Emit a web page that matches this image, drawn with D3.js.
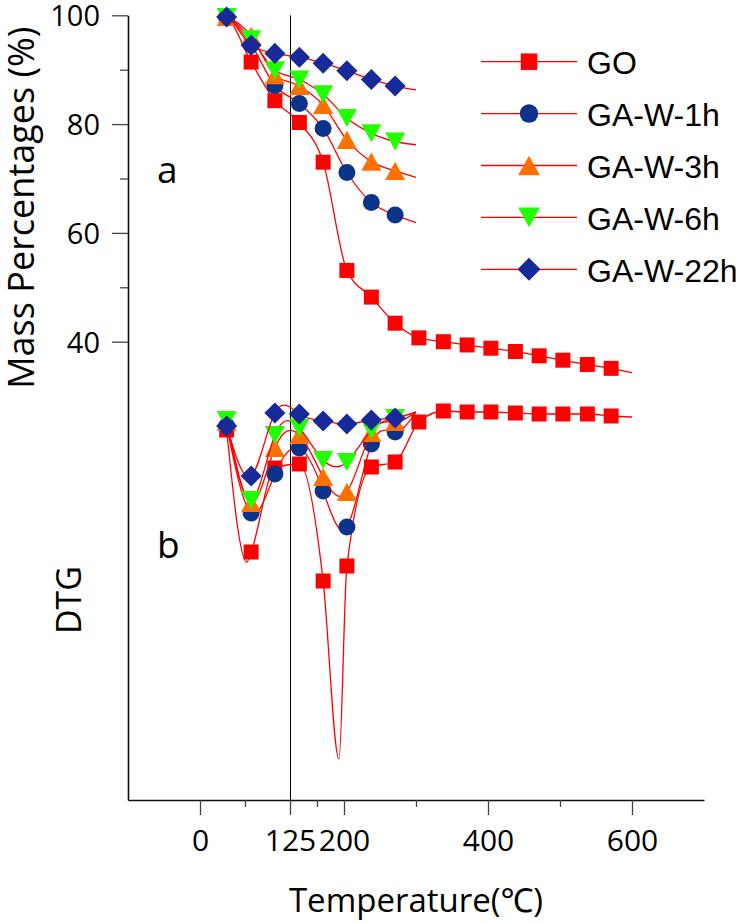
<!DOCTYPE html>
<html>
<head>
<meta charset="utf-8">
<script src="https://cdn.jsdelivr.net/npm/d3@7/dist/d3.min.js"></script>
<style>
  body { margin: 0; background: #fff; }
  svg { display: block; }
</style>
</head>
<body>
<svg id="chart"></svg>
<script>
const WIDTH = 740, HEIGHT = 923

// Series
const names = ['GO', 'GA-W-1h', 'GA-W-3h', 'GA-W-6h', 'GA-W-22h']
const colors = ['#ff0000', '#0b3389', '#ff7000', '#22ff00', '#18299a']
const shapes = ['square', 'circle', 'triangle', 'triangleDown', 'diamond']

// Temperatures (°C) where the symbols sit
const tempGO = [37, 71, 104, 138, 171, 204, 238, 271, 304, 338, 371, 404, 438, 471, 504, 538, 571]
const tempGA = [37, 71, 104, 138, 171, 204, 238, 271]
// last point of each curve (no symbol)
const endTemp = [600, 300, 300, 300, 300]

// (a) TG, mass percentage
const tgStartT = 25, tgStartV = 100
const tgGO = [99.6, 91.4, 84.3, 80.3, 73.0, 53.1, 48.2, 43.4, 40.7, 40.0, 39.4, 38.8, 38.2, 37.4, 36.6, 35.8, 35.1]
const tgW1 = [99.6, 94.6, 87.1, 83.8, 79.2, 71.1, 65.6, 63.3]
const tgW3 = [99.7, 96.2, 89.0, 87.0, 83.5, 77.1, 73.1, 71.4]
const tgW6 = [99.7, 95.6, 89.9, 88.2, 85.5, 81.1, 78.3, 76.8]
const tgW22 = [99.7, 94.5, 93.0, 92.3, 91.2, 89.8, 88.2, 87.0]
const tgEnd = [34.3, 61.9, 70.2, 76.2, 86.3]

// (b) DTG, arbitrary units
const dtgGO = [-0.19, -1.41, -0.57, -0.53, -1.70, -1.55, -0.56, -0.51, -0.11, 0.00, -0.01, -0.01, -0.02, -0.03, -0.03, -0.03, -0.05]
const dtgW1 = [-0.15, -1.02, -0.63, -0.37, -0.80, -1.16, -0.33, -0.21]
const dtgW3 = [-0.11, -0.92, -0.37, -0.24, -0.66, -0.81, -0.22, -0.11]
const dtgW6 = [-0.09, -0.89, -0.24, -0.17, -0.49, -0.51, -0.19, -0.07]
const dtgW22 = [-0.15, -0.65, -0.02, -0.03, -0.10, -0.13, -0.09, -0.07]
const dtgEnd = [-0.06, -0.01, -0.01, -0.01, -0.01]
// GO curve between symbols (peaks of the dense data)
const dtgGOExtraT = [65, 193]
const dtgGOExtraV = [-1.51, -3.48]

// Axis ticks
const xMajor = [0, 125, 200, 400, 600]
const xMinor = [62.5, 162.5, 300, 500]
const yMajor = [40, 60, 80, 100]
const yMinor = [50, 70, 90]
const refTemp = 125

const svg = d3.select('#chart').attr('width', WIDTH).attr('height', HEIGHT)

const x = d3.scaleLinear().domain([-100, 700]).range([128, 704])
const yMass = d3.scaleLinear().domain([-44.25, 100]).range([800, 15.3])
const yDtg = d3.scaleLinear().domain([-3.5, 0]).range([761, 411])

const AXIS_FONT = "'Open Sans', 'Noto Sans', sans-serif"

// symbol path, centred on 0,0
function symbolPath(shape, s) {
    const p = d3.path()
    if (shape === 'square') {
        p.rect(-s / 2, -s / 2, s, s)
    } else if (shape === 'circle') {
        p.arc(0, 0, s / 2, 0, 2 * Math.PI)
    } else if (shape === 'triangle') {
        const w = s * 1.18, h = s * 1.06
        p.moveTo(0, -h / 2); p.lineTo(w / 2, h / 2); p.lineTo(-w / 2, h / 2); p.closePath()
    } else if (shape === 'triangleDown') {
        const w = s * 1.18, h = s * 1.06
        p.moveTo(0, h / 2); p.lineTo(w / 2, -h / 2); p.lineTo(-w / 2, -h / 2); p.closePath()
    } else {
        const r = s * 0.62
        p.moveTo(0, -r); p.lineTo(r, 0); p.lineTo(0, r); p.lineTo(-r, 0); p.closePath()
    }
    return p.toString()
}
const symSize = { square: 15, circle: 17, triangle: 17, triangleDown: 17, diamond: 17 }

const tgVals = [tgGO, tgW1, tgW3, tgW6, tgW22]
const dtgVals = [dtgGO, dtgW1, dtgW3, dtgW6, dtgW22]

const series = names.map((name, i) => {
    const temps = i === 0 ? tempGO : tempGA
    const tgPts = temps.map((t, j) => ({ t, v: tgVals[i][j] }))
    const dtgPts = temps.map((t, j) => ({ t, v: dtgVals[i][j] }))
    const tgLine = [{ t: tgStartT, v: tgStartV }, ...tgPts, { t: endTemp[i], v: tgEnd[i] }]
    let dtgLine = [...dtgPts, { t: endTemp[i], v: dtgEnd[i] }]
    if (i === 0) {
        dtgGOExtraT.forEach((t, k) => dtgLine.push({ t, v: dtgGOExtraV[k] }))
        dtgLine.sort((a, b) => a.t - b.t)
    }
    return { name, color: colors[i], shape: shapes[i], tgPts, dtgPts, tgLine, dtgLine }
})

// vertical reference line at 125 °C
svg.append('line')
    .attr('x1', Math.round(x(refTemp)) + 0.5).attr('x2', Math.round(x(refTemp)) + 0.5)
    .attr('y1', yMass(100)).attr('y2', yMass.range()[0])
    .attr('stroke', '#000').attr('stroke-width', 1)

const tgLineGen = d3.line().x(d => x(d.t)).y(d => yMass(d.v)).curve(d3.curveMonotoneX)
const dtgLineGen = d3.line().x(d => x(d.t)).y(d => yDtg(d.v)).curve(d3.curveMonotoneX)
const dtgLineGenSmooth = d3.line().x(d => x(d.t)).y(d => yDtg(d.v)).curve(d3.curveNatural)

function drawLayer(cls, lineKey, ptsKey, yScale, genFor) {
    const g = svg.append('g').attr('class', cls)
    series.forEach((s, i) => {
        g.append('path').datum(s[lineKey])
            .attr('fill', 'none')
            .attr('stroke', '#ff0000')
            .attr('stroke-width', 1.3)
            .attr('d', genFor(i))
        g.selectAll(null).data(s[ptsKey]).enter()
            .append('path')
            .attr('transform', d => `translate(${x(d.t)},${yScale(d.v)})`)
            .attr('d', symbolPath(s.shape, symSize[s.shape]))
            .attr('fill', s.color)
    })
}

drawLayer('tg', 'tgLine', 'tgPts', yMass, () => tgLineGen)
drawLayer('dtg', 'dtgLine', 'dtgPts', yDtg, i => (i === 0 ? dtgLineGen : dtgLineGenSmooth))

// Axes
const xAxisY = yMass.range()[0]
const gx = svg.append('g').attr('transform', `translate(0,${xAxisY})`)
    .call(d3.axisBottom(x).tickValues(xMajor).tickSize(15).tickPadding(15).tickSizeOuter(0))
gx.selectAll('text').style('font-family', AXIS_FONT).style('font-size', '30px').attr('fill', '#000')
svg.append('g').attr('transform', `translate(0,${xAxisY})`)
    .call(d3.axisBottom(x).tickValues(xMinor).tickSize(7).tickFormat('').tickSizeOuter(0))
    .select('.domain').remove()

const gy = svg.append('g').attr('transform', `translate(${x.range()[0]},0)`)
    .call(d3.axisLeft(yMass).tickValues(yMajor).tickSize(16).tickPadding(12).tickSizeOuter(0))
gy.selectAll('text').style('font-family', AXIS_FONT).style('font-size', '29px').attr('fill', '#000')
    .attr('dy', '0.36em')
svg.append('g').attr('transform', `translate(${x.range()[0]},0)`)
    .call(d3.axisLeft(yMass).tickValues(yMinor).tickSize(8).tickFormat('').tickSizeOuter(0))
    .select('.domain').remove()

svg.selectAll('.domain').attr('stroke', '#111').attr('stroke-width', 1.6)
svg.selectAll('.tick line').attr('stroke', '#444').attr('stroke-width', 1.3)

// Titles and panel letters
svg.append('text')
    .attr('transform', `translate(34,${(yMass(100) + 400) / 2}) rotate(-90)`)
    .attr('text-anchor', 'middle')
    .style('font-family', AXIS_FONT).style('font-size', '36px')
    .text('Mass Percentages (%)')

svg.append('text')
    .attr('transform', 'translate(81,600) rotate(-90)')
    .attr('text-anchor', 'middle')
    .style('font-family', AXIS_FONT).style('font-size', '34px')
    .text('DTG')

svg.append('text')
    .attr('x', (x.range()[0] + x.range()[1]) / 2).attr('y', 912)
    .attr('text-anchor', 'middle')
    .style('font-family', AXIS_FONT).style('font-size', '33px')
    .text('Temperature(℃)')

svg.append('text').attr('x', 157).attr('y', 183)
    .style('font-family', AXIS_FONT).style('font-size', '37px').text('a')
svg.append('text').attr('x', 157).attr('y', 558)
    .style('font-family', AXIS_FONT).style('font-size', '37px').text('b')

// Legend
const legend = svg.append('g').attr('class', 'legend')
const legendY = d3.scalePoint().domain(names).range([61.7, 269.3])
series.forEach(s => {
    const ly = legendY(s.name)
    legend.append('line')
        .attr('x1', 481).attr('x2', 577).attr('y1', ly).attr('y2', ly)
        .attr('stroke', '#ff0000').attr('stroke-width', 1.3)
    legend.append('path')
        .attr('transform', `translate(529,${ly})`)
        .attr('d', symbolPath(s.shape, symSize[s.shape] + 1.5))
        .attr('fill', s.color)
    legend.append('text')
        .attr('x', 587).attr('y', ly + 12.5)
        .style('font-family', "'Liberation Sans', Arial, sans-serif")
        .style('font-size', '32px')
        .text(s.name)
})
</script>
</body>
</html>
